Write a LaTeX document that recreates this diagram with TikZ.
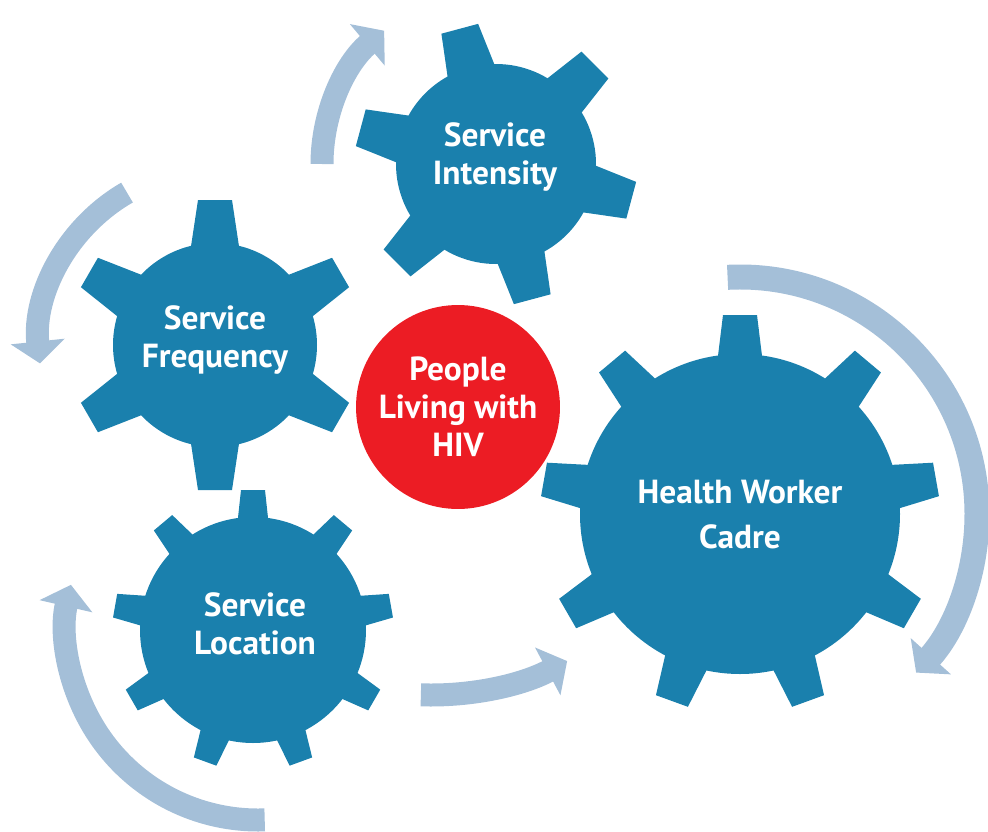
\documentclass[tikz,border=0pt]{standalone}
\usepackage{fontspec}
\setmainfont{PT Sans}
\usetikzlibrary{arrows.meta}
\definecolor{gearblue}{HTML}{1A80AD}
\definecolor{turnblue}{HTML}{A4BFD8}
\definecolor{hivred}{HTML}{EC1C24}
\tikzset{
  cogfill/.style={fill=gearblue},
  gearlabel/.style={text=white,font=\fontsize{19}{21.6}\selectfont\bfseries,align=center},
  turn/.style={draw=turnblue,line width=0.46cm,-{Triangle[width=1.06cm,length=0.44cm]}},
  hub/.style={circle,fill=hivred,minimum size=4.08cm,inner sep=0pt,gearlabel},
}
\begin{document}
\begin{tikzpicture}[x=0.02cm,y=0.02cm]
\useasboundingbox (0,0) rectangle (988,-832);
% turning arrows round the cogs
\draw[turn] (496,-164) ++(180:174) arc[start angle=180,end angle=130,radius=174];
\draw[turn] (215,-345) ++(120:176) arc[start angle=120,end angle=186,radius=176];
\draw[turn] (258,-628) ++(272:192) arc[start angle=272,end angle=167,radius=192];
\draw[turn] (431,-405) ++(-92:290) arc[start angle=-92,end angle=-62,radius=290];
\draw[turn,line width=0.5cm] (740,-514) ++(93:237) arc[start angle=93,end angle=-42,radius=237];
% cog: service intensity
\fill[cogfill] (496,-164) circle[radius=100];
\foreach \a in {45,105,...,345}
  \fill[cogfill,shift={(496,-164)},rotate=\a] (90,-25) -- (140,-19) -- (140,19) -- (90,25) -- cycle;
% cog: service frequency
\fill[cogfill] (215,-345) circle[radius=102];
\foreach \a in {30,90,...,330}
  \fill[cogfill,shift={(215,-345)},rotate=\a] (92,-25) -- (145,-17) -- (145,17) -- (92,25) -- cycle;
% cog: service location
\fill[cogfill] (253,-630) circle[radius=113];
\foreach \a in {10,50,...,330}
  \fill[cogfill,shift={(253,-630)},rotate=\a] (103,-16) -- (140,-12) -- (140,12) -- (103,16) -- cycle;
% cog: health worker cadre
\fill[cogfill] (740,-514) circle[radius=160];
\foreach \a in {10,50,...,330}
  \fill[cogfill,shift={(740,-514)},rotate=\a] (150,-23) -- (199,-17) -- (199,17) -- (150,23) -- cycle;
% labels
\node[gearlabel] (intensity) at (495,-157) {Service\\Intensity};
\node[gearlabel] (frequency) at (215,-340) {Service\\Frequency};
\node[gearlabel] (location) at (255,-624) {Service\\Location};
\node[gearlabel] (cadre) at (740,-515) {Health Worker\\[4pt]Cadre};
\node[hub] (plhiv) at (458,-407) {People\\Living with\\HIV};
\end{tikzpicture}
\end{document}
